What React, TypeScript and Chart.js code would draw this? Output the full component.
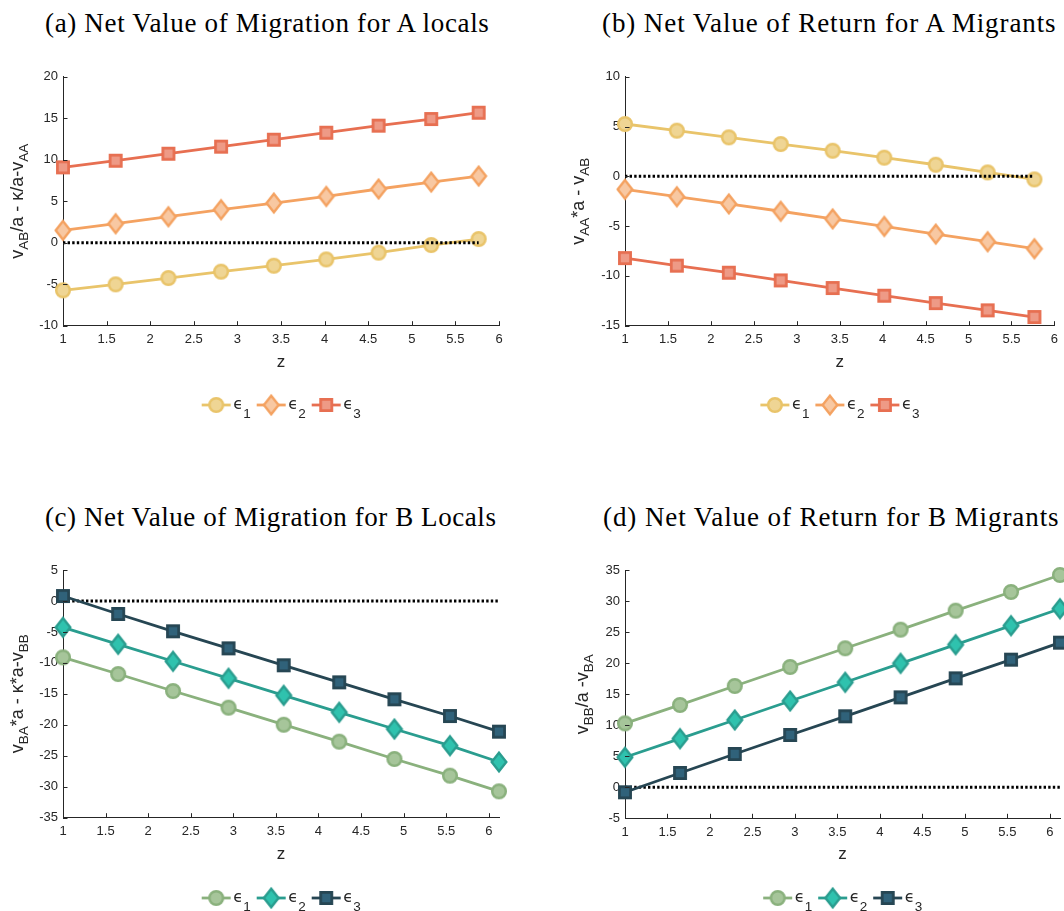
import React, { useEffect, useRef } from 'react';
import { Chart, registerables } from 'chart.js';
Chart.register(...registerables);

// ---------- data ----------
const xTicks = [1, 1.5, 2, 2.5, 3, 3.5, 4, 4.5, 5, 5.5, 6];

const zTop = [1, 1.604, 2.209, 2.813, 3.418, 4.019, 4.619, 5.223, 5.767];
const aEps1 = [-5.74, -5.02, -4.26, -3.49, -2.77, -2.01, -1.2, -0.28, 0.44];
const aEps2 = [1.49, 2.29, 3.13, 3.98, 4.78, 5.58, 6.47, 7.31, 8.03];
const aEps3 = [9.08, 9.88, 10.72, 11.57, 12.41, 13.25, 14.1, 14.9, 15.66];
const aYTicks = [-10, -5, 0, 5, 10, 15, 20];

const bEps1 = [5.25, 4.58, 3.91, 3.24, 2.57, 1.87, 1.16, 0.39, -0.31];
const bEps2 = [-1.31, -2.05, -2.77, -3.51, -4.28, -5.03, -5.8, -6.57, -7.27];
const bEps3 = [-8.21, -8.97, -9.68, -10.45, -11.22, -11.99, -12.73, -13.46, -14.13];
const bYTicks = [-15, -10, -5, 0, 5, 10];

const zBottom = [1, 1.648, 2.292, 2.944, 3.592, 4.244, 4.892, 5.544, 6.12];
const cEps1 = [-9.1, -11.8, -14.54, -17.23, -19.98, -22.72, -25.52, -28.21, -30.74];
const cEps2 = [-4.26, -7.0, -9.74, -12.49, -15.24, -17.98, -20.68, -23.37, -26.0];
const cEps3 = [0.8, -2.1, -4.9, -7.65, -10.39, -13.14, -15.88, -18.58, -21.11];
const cYTicks = [-35, -30, -25, -20, -15, -10, -5, 0, 5];

const dEps1 = [10.3, 13.26, 16.32, 19.38, 22.39, 25.39, 28.45, 31.46, 34.2];
const dEps2 = [4.83, 7.83, 10.84, 13.9, 16.91, 19.96, 22.97, 26.03, 28.76];
const dEps3 = [-0.81, 2.3, 5.36, 8.42, 11.43, 14.49, 17.55, 20.56, 23.3];
const dYTicks = [-5, 0, 5, 10, 15, 20, 25, 30, 35];

const seriesSubs = ['1', '2', '3'];

// ---------- styles ----------
const AXIS = '#262626';
const warm = [
  { color: '#E9C46A', fill: '#EFD594', shape: 'circle' },
  { color: '#F4A261', fill: '#F8C8A2', shape: 'diamond' },
  { color: '#E76F51', fill: '#EE9A86', shape: 'square' },
];
const cool = [
  { color: '#8AB17D', fill: '#A6C59A', shape: 'circle' },
  { color: '#2A9D8F', fill: '#2FC2AE', shape: 'diamond' },
  { color: '#264653', fill: '#30627A', shape: 'square' },
];

type Part = [string, boolean];
interface PanelDef {
  title: string; titleLeft: number; titleWidth: number; titleBaseline: number;
  left: number; top: number; width: number; height: number;
  plotLeft: number; plotRight: number; plotTop: number; plotBottom: number;
  xs: number[]; xMax: number; yMin: number; yMax: number; yTicks: number[];
  values: number[][]; styles: { color: string; fill: string; shape: string }[];
  yLabel: Part[]; yLabelX: number; legendY: number; zeroOnTop: boolean;
}

const panels: PanelDef[] = [
  {
    title: '(a) Net Value of Migration for A locals', titleLeft: 45, titleWidth: 448, titleBaseline: 33,
    left: 0, top: 40, width: 520, height: 400,
    plotLeft: 63, plotRight: 499, plotTop: 36.7, plotBottom: 285.7,
    xs: zTop, xMax: 6, yMin: -10, yMax: 20, yTicks: aYTicks,
    values: [aEps1, aEps2, aEps3], styles: warm,
    yLabel: [['v', false], ['AB', true], ['/a - ', false], ['κ', false], ['/a-v', false], ['AA', true]],
    yLabelX: 23.3, legendY: 365, zeroOnTop: true,
  },
  {
    title: '(b) Net Value of Return for A Migrants', titleLeft: 602, titleWidth: 458, titleBaseline: 33,
    left: 560, top: 40, width: 504, height: 400,
    plotLeft: 65, plotRight: 500, plotTop: 36.7, plotBottom: 285.7,
    xs: zTop, xMax: 6, yMin: -15, yMax: 10, yTicks: bYTicks,
    values: [bEps1, bEps2, bEps3], styles: warm,
    yLabel: [['v', false], ['AA', true], ['*a - v', false], ['AB', true]],
    yLabelX: 24, legendY: 365, zeroOnTop: true,
  },
  {
    title: '(c) Net Value of Migration for B Locals', titleLeft: 45, titleWidth: 452, titleBaseline: 526.5,
    left: 0, top: 530, width: 520, height: 381,
    plotLeft: 63, plotRight: 499, plotTop: 40, plotBottom: 287.7,
    xs: zBottom, xMax: 6.12, yMin: -35, yMax: 5, yTicks: cYTicks,
    values: [cEps1, cEps2, cEps3], styles: cool,
    yLabel: [['v', false], ['BA', true], ['*a - ', false], ['κ', false], ['*a-v', false], ['BB', true]],
    yLabelX: 23.3, legendY: 368, zeroOnTop: false,
  },
  {
    title: '(d) Net Value of Return for B Migrants', titleLeft: 603, titleWidth: 457, titleBaseline: 526.5,
    left: 560, top: 530, width: 504, height: 381,
    plotLeft: 65, plotRight: 500, plotTop: 40, plotBottom: 288.3,
    xs: zBottom, xMax: 6.12, yMin: -5, yMax: 35, yTicks: dYTicks,
    values: [dEps1, dEps2, dEps3], styles: cool,
    yLabel: [['v', false], ['BB', true], ['/a -v', false], ['BA', true]],
    yLabelX: 28, legendY: 368, zeroOnTop: false,
  },
];

function makeMarker(shape: string, fill: string, stroke: string): HTMLCanvasElement {
  const c = document.createElement('canvas');
  c.width = 24; c.height = 24;
  const g = c.getContext('2d')!;
  g.fillStyle = fill; g.strokeStyle = stroke;
  g.beginPath();
  if (shape === 'circle') {
    g.lineWidth = 2.5;
    g.arc(12, 12, 6.8, 0, Math.PI * 2);
  } else if (shape === 'diamond') {
    g.lineWidth = 2.4;
    g.moveTo(12, 2.8); g.lineTo(19.3, 12); g.lineTo(12, 21.2); g.lineTo(4.7, 12); g.closePath();
  } else {
    g.lineWidth = 2.7;
    g.rect(12 - 5.6, 12 - 5.6, 11.2, 11.2);
  }
  g.fill(); g.stroke();
  return c;
}

const TICK_FONT = '"Liberation Sans", Arial, sans-serif';

function drawRich(ctx: CanvasRenderingContext2D, parts: Part[], main: number, sub: number, subDy: number) {
  const fMain = `${main}px ${TICK_FONT}`;
  const fSub = `${sub}px ${TICK_FONT}`;
  let total = 0;
  parts.forEach(([t, s]) => { ctx.font = s ? fSub : fMain; total += ctx.measureText(t).width; });
  let x = -total / 2;
  parts.forEach(([t, s]) => {
    ctx.font = s ? fSub : fMain;
    ctx.fillText(t, x, s ? subDy : 0);
    x += ctx.measureText(t).width;
  });
}

function PanelChart({ p }: { p: PanelDef }) {
  const ref = useRef<HTMLCanvasElement>(null);
  useEffect(() => {
    const canvas = ref.current!;
    const markers = p.styles.map(s => makeMarker(s.shape, s.fill, s.color));
    const datasets: any[] = p.values.map((vals, i) => ({
      label: 'eps' + seriesSubs[i],
      data: p.xs.map((x, j) => ({ x, y: vals[j] })),
      borderColor: p.styles[i].color,
      backgroundColor: p.styles[i].fill,
      borderWidth: 2.8,
      pointStyle: markers[i],
      pointRadius: 7,
      pointHoverRadius: 7,
      tension: 0,
      clip: false,
      order: 3 - i,
    }));
    datasets.push({
      label: 'zero',
      data: [{ x: p.xs[0], y: 0 }, { x: p.xs[p.xs.length - 1], y: 0 }],
      borderColor: '#000000',
      borderWidth: 3,
      borderDash: [2.4, 2.2],
      pointRadius: 0,
      clip: false,
      order: p.zeroOnTop ? 0 : 10,
    });

    const decor = {
      id: 'decor',
      afterDraw(chart: any) {
        const ctx: CanvasRenderingContext2D = chart.ctx;
        const ca = chart.chartArea;
        const xs = chart.scales.x, ys = chart.scales.y;
        ctx.save();
        ctx.strokeStyle = AXIS; ctx.lineWidth = 1;
        ctx.beginPath();
        xTicks.forEach(v => {
          if (v > p.xMax + 1e-9) return;
          const px = Math.round(xs.getPixelForValue(v)) + 0.5;
          ctx.moveTo(px, ca.bottom); ctx.lineTo(px, ca.bottom - 4.5);
        });
        p.yTicks.forEach(v => {
          const py = Math.round(ys.getPixelForValue(v)) + 0.5;
          ctx.moveTo(ca.left, py); ctx.lineTo(ca.left + 4.5, py);
        });
        ctx.stroke();

        ctx.fillStyle = AXIS;
        ctx.textAlign = 'center'; ctx.textBaseline = 'alphabetic';
        ctx.font = `17px ${TICK_FONT}`;
        ctx.fillText('z', (ca.left + ca.right) / 2, ca.bottom + 41);

        ctx.save();
        ctx.translate(p.yLabelX, (ca.top + ca.bottom) / 2);
        ctx.rotate(-Math.PI / 2);
        ctx.textAlign = 'left';
        drawRich(ctx, p.yLabel, 18, 13.5, 5);
        ctx.restore();

        const cx = (ca.left + ca.right) / 2;
        const ly = p.legendY;
        p.styles.forEach((s, i) => {
          const x0 = cx - 79.3 + 55 * i;
          ctx.strokeStyle = s.color; ctx.lineWidth = 2.8;
          ctx.beginPath(); ctx.moveTo(x0, ly); ctx.lineTo(x0 + 29, ly); ctx.stroke();
          const m = markers[i];
          ctx.drawImage(m, x0 + 14.5 - m.width / 2, ly - m.height / 2);
          ctx.fillStyle = AXIS; ctx.textAlign = 'left';
          ctx.font = '16px "DejaVu Sans", sans-serif';
          ctx.fillText('ϵ', x0 + 31.5, ly + 4);
          ctx.font = `13.5px ${TICK_FONT}`;
          ctx.fillText(seriesSubs[i], x0 + 41.5, ly + 13);
        });
        ctx.restore();
      },
    };

    const tickFont = { family: TICK_FONT, size: 13 };
    const chart = new Chart(canvas, {
      type: 'line',
      data: { datasets },
      options: {
        responsive: false,
        animation: false,
        devicePixelRatio: 1,
        events: [],
        layout: { padding: { left: 0, top: p.plotTop, right: p.width - p.plotRight, bottom: 0 }, autoPadding: false },
        plugins: { legend: { display: false }, tooltip: { enabled: false }, title: { display: false } },
        scales: {
          x: {
            type: 'linear', min: 1, max: p.xMax,
            afterFit: (s: any) => { s.height = p.height - p.plotBottom; },
            afterBuildTicks: (s: any) => { s.ticks = xTicks.filter(v => v <= p.xMax + 1e-9).map(v => ({ value: v })); },
            grid: { display: true, drawOnChartArea: false, drawTicks: false },
            border: { display: true, color: AXIS, width: 1 },
            ticks: { font: tickFont, color: AXIS, padding: 6, maxRotation: 0, autoSkip: false, callback: (v: any) => String(v) },
          },
          y: {
            type: 'linear', min: p.yMin, max: p.yMax,
            afterFit: (s: any) => { s.width = p.plotLeft; },
            afterBuildTicks: (s: any) => { s.ticks = p.yTicks.map(v => ({ value: v })); },
            grid: { display: true, drawOnChartArea: false, drawTicks: false },
            border: { display: true, color: AXIS, width: 1 },
            ticks: { font: tickFont, color: AXIS, padding: 5, autoSkip: false, callback: (v: any) => String(v) },
          },
        },
      } as any,
      plugins: [decor],
    });
    return () => chart.destroy();
  }, [p]);
  return (
    <canvas
      ref={ref}
      width={p.width}
      height={p.height}
      style={{ position: 'absolute', left: p.left, top: p.top, width: p.width, height: p.height, display: 'block' }}
    />
  );
}

const TITLE_FONT_SIZE = 27;
const TITLE_FAMILY = '"Liberation Serif", "Times New Roman", serif';

function titleSpacing(text: string, target: number): number {
  const c = document.createElement('canvas').getContext('2d');
  if (!c) return 0;
  c.font = `${TITLE_FONT_SIZE}px ${TITLE_FAMILY}`;
  const w = c.measureText(text).width;
  return (target - w) / text.length;
}

export default function App() {
  return (
    <div style={{ position: 'absolute', left: 0, top: 0, width: 1064, height: 911, overflow: 'hidden', background: '#ffffff' }}>
      {panels.map((p, i) => (
        <div
          key={'t' + i}
          style={{
            position: 'absolute', left: p.titleLeft, top: p.titleBaseline - 22.6,
            fontFamily: TITLE_FAMILY, fontSize: TITLE_FONT_SIZE, lineHeight: `${TITLE_FONT_SIZE}px`,
            letterSpacing: `${titleSpacing(p.title, p.titleWidth)}px`, whiteSpace: 'nowrap', color: '#000',
          }}
        >
          {p.title}
        </div>
      ))}
      {panels.map((p, i) => <PanelChart key={'c' + i} p={p} />)}
    </div>
  );
}
